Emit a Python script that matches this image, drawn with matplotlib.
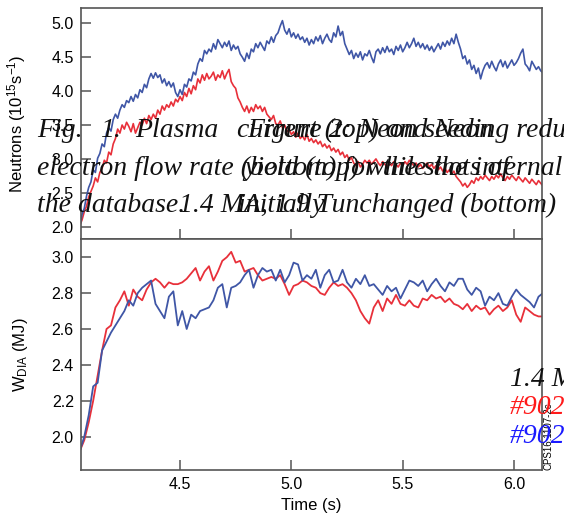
import numpy as np
import matplotlib
matplotlib.use("Agg")
import matplotlib.pyplot as plt

# time bases (s)
t_top = np.round(np.arange(4.05, 6.135, 0.01), 2)
t_bot = np.round(np.arange(4.05, 6.135, 0.02), 2)

# neutron rate (10^15 s^-1), shot 1 (blue) and shot 2 (red)
neut_blue = [
    2.00, 2.18, 2.27, 2.45, 2.58, 2.66, 2.84, 2.80, 3.01, 3.08,
    3.22, 3.18, 3.38, 3.46, 3.41, 3.58, 3.66, 3.60, 3.72, 3.80,
    3.76, 3.86, 3.83, 3.92, 3.85, 3.95, 3.90, 4.02, 3.98, 4.10,
    4.05, 4.18, 4.26, 4.19, 4.27, 4.20, 4.24, 4.12, 4.18, 4.08,
    4.14, 4.06, 4.12, 3.98, 3.92, 4.02, 3.95, 4.10, 4.06, 4.18,
    4.15, 4.28, 4.24, 4.40, 4.48, 4.44, 4.60, 4.55, 4.62, 4.58,
    4.70, 4.62, 4.76, 4.70, 4.64, 4.72, 4.66, 4.74, 4.60, 4.68,
    4.62, 4.66, 4.55, 4.50, 4.44, 4.56, 4.48, 4.62, 4.58, 4.70,
    4.64, 4.72, 4.66, 4.60, 4.74, 4.70, 4.80, 4.72, 4.82, 4.86,
    4.96, 5.04, 4.90, 4.84, 4.92, 4.80, 4.86, 4.78, 4.84, 4.76,
    4.80, 4.72, 4.78, 4.68, 4.76, 4.70, 4.80, 4.74, 4.82, 4.70,
    4.78, 4.84, 4.76, 4.72, 4.86, 4.80, 4.96, 4.82, 4.88, 4.70,
    4.62, 4.54, 4.60, 4.48, 4.56, 4.50, 4.58, 4.46, 4.55, 4.52,
    4.60, 4.50, 4.42, 4.58, 4.62, 4.55, 4.64, 4.57, 4.66, 4.58,
    4.62, 4.54, 4.66, 4.60, 4.68, 4.58, 4.64, 4.72, 4.64, 4.70,
    4.78, 4.66, 4.72, 4.64, 4.70, 4.62, 4.68, 4.60, 4.66, 4.58,
    4.64, 4.70, 4.62, 4.72, 4.66, 4.74, 4.68, 4.78, 4.70, 4.84,
    4.72, 4.62, 4.48, 4.52, 4.40, 4.46, 4.32, 4.38, 4.26, 4.34,
    4.18, 4.30, 4.38, 4.42, 4.34, 4.44, 4.36, 4.30, 4.40, 4.46,
    4.36, 4.44, 4.34, 4.40, 4.46, 4.38, 4.42, 4.48, 4.56, 4.62,
    4.40, 4.36, 4.30, 4.44, 4.38, 4.32, 4.36, 4.30, 4.27,
]
neut_red = [
    2.02, 2.10, 2.22, 2.30, 2.44, 2.52, 2.60, 2.72, 2.66, 2.80,
    2.86, 2.98, 2.94, 3.10, 3.06, 3.22, 3.30, 3.44, 3.38, 3.50,
    3.44, 3.54, 3.48, 3.40, 3.52, 3.38, 3.46, 3.54, 3.50, 3.60,
    3.52, 3.64, 3.58, 3.66, 3.60, 3.72, 3.66, 3.78, 3.72, 3.80,
    3.76, 3.84, 3.78, 3.88, 3.84, 3.92, 3.86, 3.98, 3.92, 4.04,
    3.96, 4.08, 4.02, 4.18, 4.12, 4.24, 4.16, 4.26, 4.18, 4.22,
    4.28, 4.16, 4.24, 4.20, 4.30, 4.18, 4.26, 4.32, 4.14, 4.08,
    4.04, 3.90, 3.84, 3.76, 3.70, 3.78, 3.68, 3.76, 3.70, 3.80,
    3.74, 3.78, 3.70, 3.76, 3.66, 3.62, 3.58, 3.64, 3.52, 3.50,
    3.56, 3.46, 3.50, 3.40, 3.44, 3.36, 3.40, 3.32, 3.38, 3.30,
    3.34, 3.28, 3.36, 3.26, 3.30, 3.24, 3.28, 3.22, 3.26, 3.18,
    3.22, 3.16, 3.20, 3.12, 3.16, 3.10, 3.14, 3.06, 3.10, 3.02,
    3.06, 2.98, 3.02, 2.94, 2.90, 2.96, 2.88, 2.92, 2.98, 2.94,
    2.98, 2.92, 2.96, 3.00, 2.94, 2.90, 2.96, 2.92, 2.88, 2.94,
    2.90, 2.96, 2.92, 2.88, 2.94, 2.90, 2.96, 2.92, 2.98, 2.94,
    2.90, 2.94, 2.88, 2.92, 2.86, 2.90, 2.94, 2.88, 2.92, 2.86,
    2.90, 2.84, 2.88, 2.82, 2.86, 2.80, 2.84, 2.78, 2.82, 2.74,
    2.70, 2.66, 2.60, 2.64, 2.58, 2.62, 2.68, 2.64, 2.72, 2.68,
    2.74, 2.70, 2.76, 2.72, 2.68, 2.74, 2.70, 2.76, 2.72, 2.78,
    2.72, 2.68, 2.74, 2.70, 2.76, 2.72, 2.68, 2.74, 2.70, 2.66,
    2.72, 2.68, 2.64, 2.70, 2.66, 2.62, 2.68, 2.64, 2.60,
]

# diamagnetic energy (MJ)
wdia_blue = [
    1.92, 2.00, 2.12, 2.28, 2.30, 2.48, 2.53, 2.58, 2.62, 2.66,
    2.70, 2.76, 2.73, 2.80, 2.83, 2.85, 2.87, 2.74, 2.70, 2.66,
    2.78, 2.81, 2.62, 2.70, 2.60, 2.68, 2.66, 2.70, 2.71, 2.72,
    2.76, 2.83, 2.85, 2.72, 2.83, 2.84, 2.86, 2.90, 2.93, 2.83,
    2.90, 2.94, 2.92, 2.93, 2.87, 2.93, 2.86, 2.90, 2.97, 2.96,
    2.87, 2.90, 2.88, 2.93, 2.83, 2.90, 2.93, 2.86, 2.87, 2.93,
    2.86, 2.83, 2.88, 2.85, 2.90, 2.84, 2.85, 2.82, 2.79, 2.84,
    2.81, 2.83, 2.77, 2.82, 2.87, 2.86, 2.84, 2.87, 2.81, 2.85,
    2.88, 2.84, 2.81, 2.86, 2.84, 2.88, 2.88, 2.82, 2.79, 2.83,
    2.81, 2.73, 2.78, 2.76, 2.80, 2.74, 2.73, 2.78, 2.82, 2.79,
    2.77, 2.75, 2.72, 2.78, 2.80,
]
wdia_red = [
    1.92, 1.98, 2.08, 2.20, 2.34, 2.48, 2.60, 2.62, 2.72, 2.76,
    2.81, 2.73, 2.82, 2.78, 2.76, 2.82, 2.86, 2.88, 2.86, 2.83,
    2.86, 2.85, 2.85, 2.86, 2.88, 2.91, 2.94, 2.87, 2.92, 2.95,
    2.87, 2.92, 2.98, 3.00, 3.03, 2.97, 2.98, 2.92, 2.93, 2.94,
    2.90, 2.87, 2.88, 2.89, 2.88, 2.90, 2.85, 2.79, 2.84, 2.85,
    2.87, 2.86, 2.84, 2.83, 2.80, 2.79, 2.83, 2.86, 2.84, 2.85,
    2.83, 2.80, 2.76, 2.70, 2.66, 2.63, 2.72, 2.76, 2.70, 2.77,
    2.74, 2.79, 2.74, 2.73, 2.76, 2.73, 2.72, 2.77, 2.76, 2.79,
    2.77, 2.78, 2.75, 2.77, 2.74, 2.73, 2.71, 2.74, 2.70, 2.73,
    2.71, 2.72, 2.68, 2.71, 2.73, 2.70, 2.72, 2.76, 2.68, 2.64,
    2.72, 2.70, 2.68, 2.67, 2.67,
]

RED = "#e8303a"
BLUE = "#3f56a6"
SPINE = "#555555"

plt.rcParams["font.family"] = ["Liberation Sans", "DejaVu Sans"]
plt.rcParams["mathtext.fontset"] = "custom"
plt.rcParams["mathtext.rm"] = "Liberation Sans"
plt.rcParams["mathtext.it"] = "Liberation Sans:italic"

fig = plt.figure(figsize=(5.64, 5.17), dpi=100)
left, width = 0.1431, 0.8184
ax1 = fig.add_axes([left, 0.5368, width, 0.4477])
ax2 = fig.add_axes([left, 0.0909, width, 0.4459])

ax1.plot(t_top, neut_red, color=RED, lw=1.2)
ax1.plot(t_top, neut_blue, color=BLUE, lw=1.2)
ax2.plot(t_bot, wdia_red, color=RED, lw=1.3)
ax2.plot(t_bot, wdia_blue, color=BLUE, lw=1.3)

for ax in (ax1, ax2):
    ax.set_xlim(4.054, 6.127)
    ax.set_xticks([4.5, 5.0, 5.5, 6.0])
    for s in ax.spines.values():
        s.set_color(SPINE)
        s.set_linewidth(1.2)
    ax.tick_params(direction="in", length=7, width=1.1, color=SPINE,
                   labelsize=11.5, pad=5, top=False, right=False)

ax1.set_ylim(1.811, 5.226)
ax1.set_yticks([2.0, 2.5, 3.0, 3.5, 4.0, 4.5, 5.0])
ax1.set_yticklabels(["2.0", "2.5", "3.0", "3.5", "4.0", "4.5", "5.0"])
ax1.tick_params(axis="x", labelbottom=False)
ax1.set_ylabel("Neutrons (10$^{15}$s$^{-1}$)", fontsize=12)
ax1.yaxis.set_label_coords(-0.115, 0.5)

ax2.set_ylim(1.814, 3.099)
ax2.set_yticks([2.0, 2.2, 2.4, 2.6, 2.8, 3.0])
ax2.set_yticklabels(["2.0", "2.2", "2.4", "2.6", "2.8", "3.0"])
ax2.set_xticklabels(["4.5", "5.0", "5.5", "6.0"])
ax2.set_ylabel("W$_{\\mathrm{DIA}}$ (MJ)", fontsize=12)
ax2.yaxis.set_label_coords(-0.11, 0.5)
ax2.set_xlabel("Time (s)", fontsize=12, labelpad=4)

fig.text(0.972, 0.09, "CPS16.1107-2c", rotation=90, fontsize=7,
         ha="center", va="bottom")

# overlapping caption text (two captions printed on top of each other)
cap = dict(family=["Liberation Serif", "DejaVu Serif"], style="italic",
           fontsize=20, color="#111111", zorder=10)
W, H = 564.0, 517.0
y1, y2, y3 = 1 - 137 / H, 1 - 175 / H, 1 - 212 / H
fig.text(37 / W, y1, "Fig.", **cap)
fig.text(100 / W, y1, "1.", **cap)
fig.text(135 / W, y1, "Plasma", **cap)
fig.text(237 / W, y1, "current (top) and Neon", **cap)
fig.text(37 / W, y2, "electron flow rate (bottom) for the shots of", **cap)
fig.text(37 / W, y3, "the database.", **cap)
fig.text(179 / W, y3, "1.4 MA, 1.9 T", **cap)
fig.text(247 / W, y1, "Figure 2: Neon seeding reduces", **cap)
fig.text(244 / W, y2, "yield (top) while the internal", **cap)
fig.text(238 / W, y3, "initially unchanged (bottom)", **cap)

fig.text(510 / W, 1 - 386 / H, "1.4 MA, 1.9 T", **cap)
fig.text(510 / W, 1 - 414 / H, "#90259", **dict(cap, color="#ff1a1a"))
fig.text(510 / W, 1 - 443 / H, "#90261", **dict(cap, color="#1a1aff"))

fig.savefig("out.png", dpi=100)
